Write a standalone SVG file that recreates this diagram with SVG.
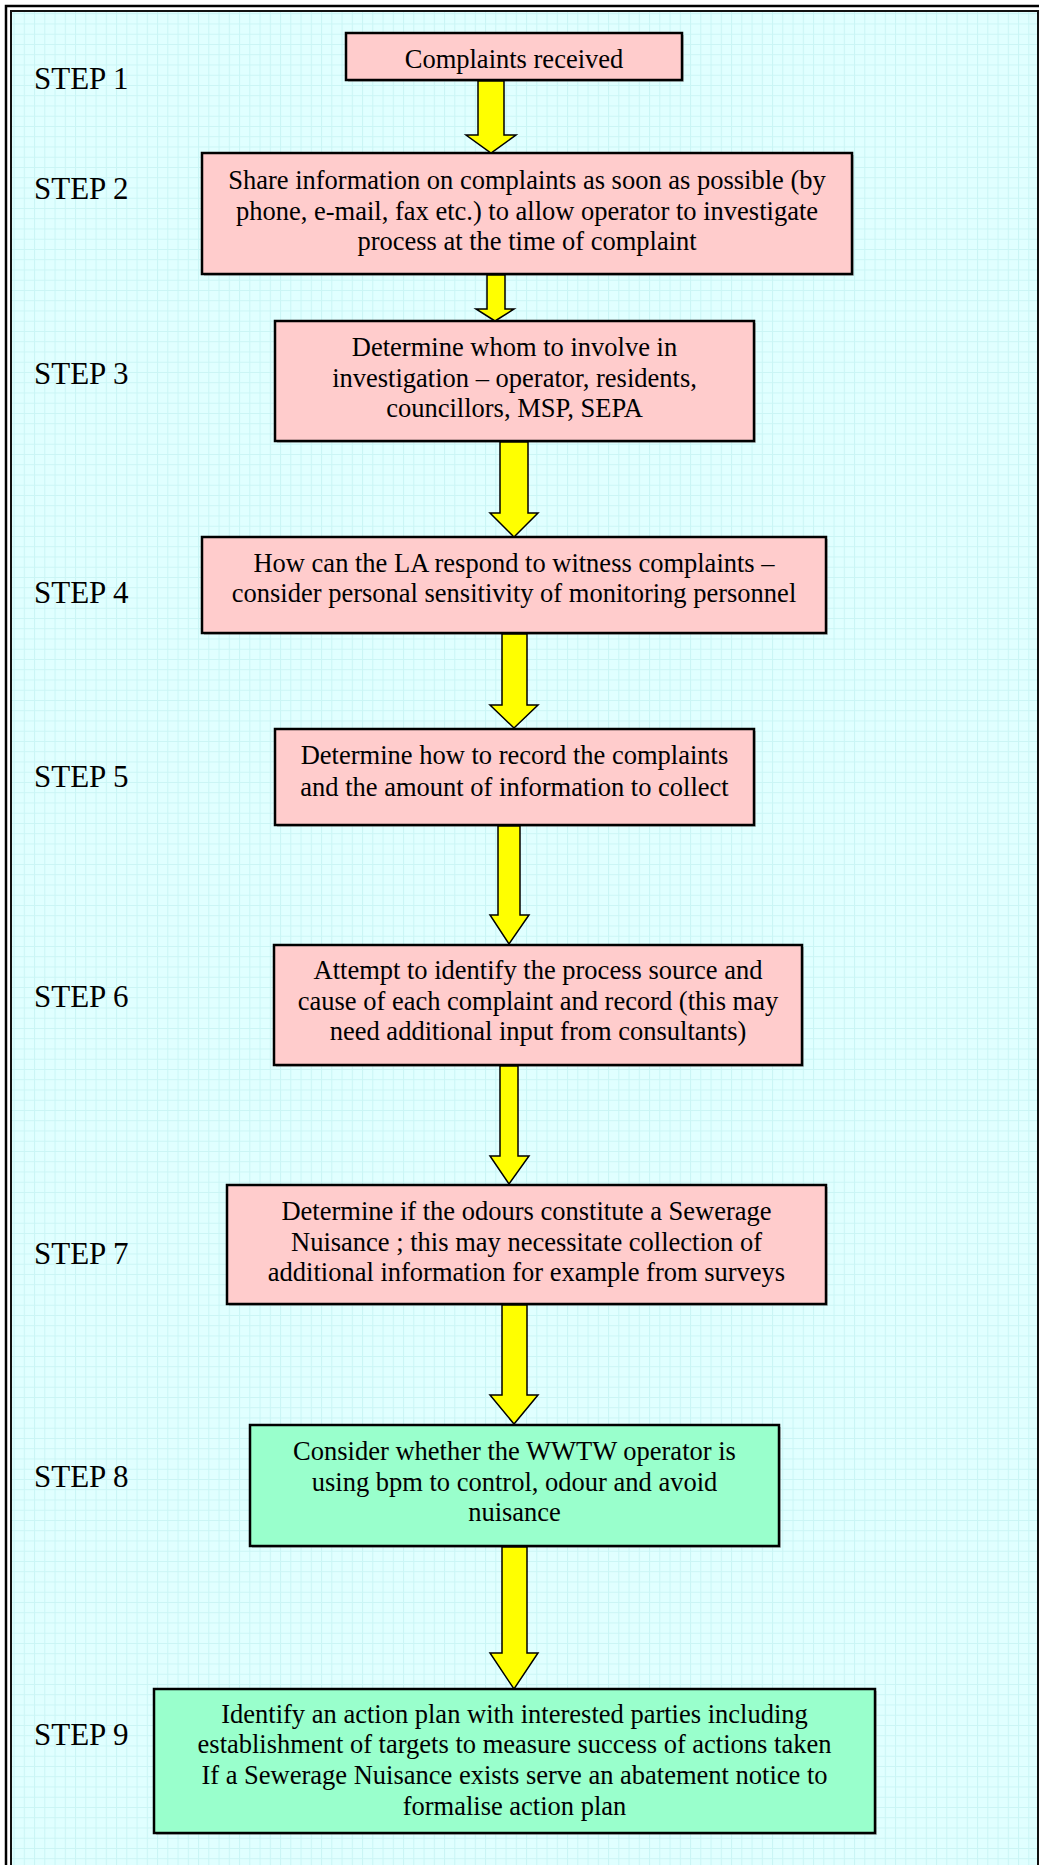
<svg xmlns="http://www.w3.org/2000/svg" width="1039" height="1865" viewBox="0 0 1039 1865">
<style>
.box{stroke:#000;stroke-width:2.5}
.pink{fill:#FFCCCC}
.green{fill:#99FFCC}
.shadow{fill:#8A8A8A;opacity:0.45}
.t{font-family:"Liberation Serif","Times New Roman",serif;font-size:26.5px;fill:#000;text-anchor:middle}
.step{font-family:"Liberation Serif","Times New Roman",serif;font-size:31px;fill:#000}
.arrow{fill:#FFFF00;stroke:#000;stroke-width:1.5;stroke-linejoin:miter}
</style>
<defs>
<pattern id="grid" x="3.3" y="3" width="10.25" height="10.25" patternUnits="userSpaceOnUse">
<rect width="10.25" height="10.25" fill="#E0FFFF"/>
<path d="M0 0.5H10.25M0.5 0V10.25" stroke="#CAF5F5" stroke-width="1" fill="none"/>
</pattern>
</defs>
<rect x="0" y="0" width="1039" height="1865" fill="#FFFFFF"/>
<g id="frame">
<rect x="11" y="11" width="1027" height="1870" fill="url(#grid)"/>
<rect x="6" y="6" width="1045" height="1880" fill="none" stroke="#000" stroke-width="2.5"/>
<rect x="11" y="11" width="1027" height="1870" fill="none" stroke="#111" stroke-width="2"/>
</g>
<g id="labels">
<text class="step" x="34" y="89">STEP 1</text>
<text class="step" x="34" y="199">STEP 2</text>
<text class="step" x="34" y="384">STEP 3</text>
<text class="step" x="34" y="603">STEP 4</text>
<text class="step" x="34" y="787">STEP 5</text>
<text class="step" x="34" y="1007">STEP 6</text>
<text class="step" x="34" y="1264">STEP 7</text>
<text class="step" x="34" y="1487">STEP 8</text>
<text class="step" x="34" y="1745">STEP 9</text>
</g>
<g id="node1">
<rect class="shadow" x="348" y="35" width="336" height="47"/>
<rect class="box pink" x="346" y="33" width="336" height="47"/>
<text class="t" x="514" y="68">Complaints received</text>
</g>
<g id="node2">
<rect class="shadow" x="204" y="155" width="650" height="121"/>
<rect class="box pink" x="202" y="153" width="650" height="121"/>
<text class="t" x="527" y="189">Share information on complaints as soon as possible (by</text>
<text class="t" x="527" y="220">phone, e-mail, fax etc.) to allow operator to investigate</text>
<text class="t" x="527" y="250">process at the time of complaint</text>
</g>
<g id="node3">
<rect class="shadow" x="277" y="323" width="479" height="120"/>
<rect class="box pink" x="275" y="321" width="479" height="120"/>
<text class="t" x="514.5" y="356">Determine whom to involve in</text>
<text class="t" x="514.5" y="387">investigation – operator, residents,</text>
<text class="t" x="514.5" y="417">councillors, MSP, SEPA</text>
</g>
<g id="node4">
<rect class="shadow" x="204" y="539" width="624" height="96"/>
<rect class="box pink" x="202" y="537" width="624" height="96"/>
<text class="t" x="514" y="572">How can the LA respond to witness complaints –</text>
<text class="t" x="514" y="602">consider personal sensitivity of monitoring personnel</text>
</g>
<g id="node5">
<rect class="shadow" x="277" y="731" width="479" height="96"/>
<rect class="box pink" x="275" y="729" width="479" height="96"/>
<text class="t" x="514.5" y="764">Determine how to record the complaints</text>
<text class="t" x="514.5" y="796">and the amount of information to collect</text>
</g>
<g id="node6">
<rect class="shadow" x="276" y="947" width="528" height="120"/>
<rect class="box pink" x="274" y="945" width="528" height="120"/>
<text class="t" x="538" y="979">Attempt to identify the process source and</text>
<text class="t" x="538" y="1010">cause of each complaint and record (this may</text>
<text class="t" x="538" y="1040">need additional input from consultants)</text>
</g>
<g id="node7">
<rect class="shadow" x="229" y="1187" width="599" height="119"/>
<rect class="box pink" x="227" y="1185" width="599" height="119"/>
<text class="t" x="526.5" y="1220">Determine if the odours constitute a Sewerage</text>
<text class="t" x="526.5" y="1251">Nuisance ; this may necessitate collection of</text>
<text class="t" x="526.5" y="1281">additional information for example from surveys</text>
</g>
<g id="node8">
<rect class="shadow" x="252" y="1427" width="529" height="121"/>
<rect class="box green" x="250" y="1425" width="529" height="121"/>
<text class="t" x="514.5" y="1460">Consider whether the WWTW operator is</text>
<text class="t" x="514.5" y="1491">using bpm to control, odour and avoid</text>
<text class="t" x="514.5" y="1521">nuisance</text>
</g>
<g id="node9">
<rect class="shadow" x="156" y="1691" width="721" height="144"/>
<rect class="box green" x="154" y="1689" width="721" height="144"/>
<text class="t" x="514.5" y="1723">Identify an action plan with interested parties including</text>
<text class="t" x="514.5" y="1753">establishment of targets to measure success of actions taken</text>
<text class="t" x="514.5" y="1784">If a Sewerage Nuisance exists serve an abatement notice to</text>
<text class="t" x="514.5" y="1815">formalise action plan</text>
</g>
<g id="connectors">
<polygon class="arrow" points="478,81 504,81 504,135 516,135 491,153 466,135 478,135"/>
<polygon class="arrow" points="487,275 505,275 505,309 514,309 495,321 476,309 487,309"/>
<polygon class="arrow" points="500,442 528,442 528,513 538,513 514,537 490,513 500,513"/>
<polygon class="arrow" points="502,634 527,634 527,705 538,705 514,728 490,705 502,705"/>
<polygon class="arrow" points="498,826 520,826 520,915 529,915 509,944 490,915 498,915"/>
<polygon class="arrow" points="500,1066 518,1066 518,1156 529,1156 509,1184 490,1156 500,1156"/>
<polygon class="arrow" points="502,1305 527,1305 527,1395 538,1395 514,1424 490,1395 502,1395"/>
<polygon class="arrow" points="502,1547 527,1547 527,1653 538,1653 514,1689 490,1653 502,1653"/>
</g>
</svg>
